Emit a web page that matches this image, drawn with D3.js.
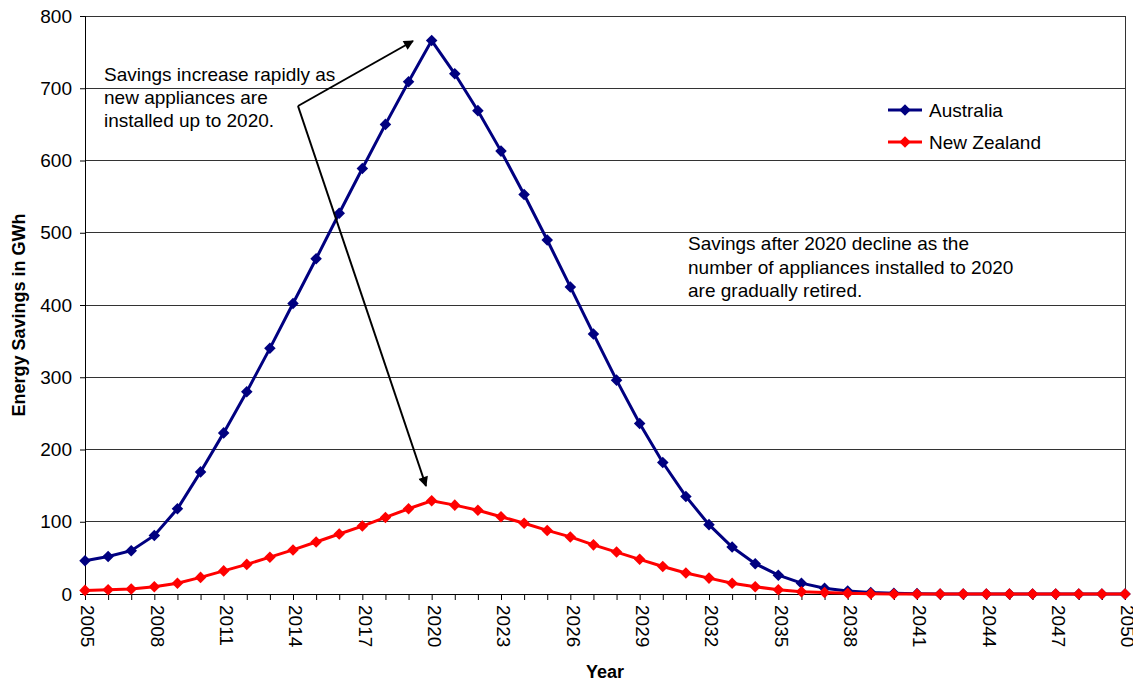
<!DOCTYPE html>
<html><head><meta charset="utf-8">
<script src="https://cdn.jsdelivr.net/npm/d3@7"></script>
<style>body{margin:0;background:#fff;} text{font-family:"Liberation Sans",Arial,sans-serif;}</style>
</head><body><svg id="c" width="1133" height="684"></svg>
<script>
const years = d3.range(2005, 2051);
const australia = [46,52,60,81,118,169,223,280,340,402,464,527,589,650,709,766,720,669,613,553,490,425,360,296,236,182,135,96,65,42,26,15,8,4,2,1,0.5,0,0,0,0,0,0,0,0,0];
const newZealand = [5,6,7,10,15,23,32,41,51,61,72,83,94,106,118,129,123,116,107,98,88,79,68,58,48,38,29,22,15,10,6,3,2,1,0.5,0,0,0,0,0,0,0,0,0,0,0];
const yTicks = [0,100,200,300,400,500,600,700,800];
const xLabelYears = d3.range(2005, 2051, 3);
const seriesNames = ["Australia","New Zealand"];
const seriesColors = ["#000080","#FF0000"];

const FS = 19;
const svg = d3.select("#c");
const L=85, R=1125, T=16, B=594;
const x = d3.scaleLinear().domain([2005,2050]).range([L,R]);
const y = d3.scaleLinear().domain([0,800]).range([B,T]);

// gridlines
svg.append("g").selectAll("line").data(yTicks).join("line")
  .attr("x1",L).attr("x2",R).attr("y1",d=>y(d)).attr("y2",d=>y(d))
  .attr("stroke","#333").attr("stroke-width",1).attr("shape-rendering","crispEdges");
// right border
svg.append("line").attr("x1",R).attr("x2",R).attr("y1",T).attr("y2",B).attr("stroke","#333").attr("shape-rendering","crispEdges");

// y axis
const ya = svg.append("g").attr("transform",`translate(${L},0)`)
  .call(d3.axisLeft(y).tickValues(yTicks).tickSize(5).tickPadding(8).tickFormat(d3.format("d")));
ya.select(".domain").attr("stroke","#000");
ya.selectAll("text").attr("font-size",FS).attr("fill","#000").style("font-family","Liberation Sans, Arial, sans-serif");

// x axis
const xa = svg.append("g").attr("transform",`translate(0,${B})`)
  .call(d3.axisBottom(x).tickValues(years).tickSize(6).tickFormat(d=> xLabelYears.includes(d)? String(d):""));
xa.select(".domain").attr("stroke","#000");
xa.selectAll("text").attr("font-size",FS).attr("fill","#000")
  .style("font-family","Liberation Sans, Arial, sans-serif")
  .attr("transform","rotate(90)").attr("text-anchor","start")
  .attr("x",11).attr("y",0).attr("dy","0.22em");

// series
const data = [australia,newZealand];
data.forEach((vals,i)=>{
  const pts = years.map((yr,j)=>[yr,vals[j]]);
  svg.append("path").datum(pts)
    .attr("d",d3.line().x(d=>x(d[0])).y(d=>y(d[1])))
    .attr("fill","none").attr("stroke",seriesColors[i]).attr("stroke-width",3);
  svg.append("g").selectAll("path").data(pts).join("path")
    .attr("d",d3.symbol(d3.symbolDiamond2,85))
    .attr("transform",d=>`translate(${x(d[0])},${y(d[1])})`)
    .attr("fill",seriesColors[i]);
});

// axis titles
svg.append("text").attr("transform",`translate(25,${(T+B)/2 + 10}) rotate(-90)`)
  .attr("text-anchor","middle").attr("font-size",FS-1).attr("font-weight","bold").text("Energy Savings in GWh");
svg.append("text").attr("x",605).attr("y",678).attr("text-anchor","middle")
  .attr("font-size",FS-1).attr("font-weight","bold").text("Year");

// legend
seriesNames.forEach((n,i)=>{
  const ly = 110 + i*32;
  svg.append("line").attr("x1",888).attr("x2",922).attr("y1",ly).attr("y2",ly)
    .attr("stroke",seriesColors[i]).attr("stroke-width",3);
  svg.append("path").attr("d",d3.symbol(d3.symbolDiamond2,85))
    .attr("transform",`translate(905,${ly})`).attr("fill",seriesColors[i]);
  svg.append("text").attr("x",929).attr("y",ly).attr("dy","0.35em").attr("font-size",FS).text(n);
});

// annotations
const ann1 = ["Savings increase rapidly as","new appliances are","installed up to 2020."];
svg.append("g").selectAll("text").data(ann1).join("text")
  .attr("x",104).attr("y",(d,i)=>81+i*23).attr("font-size",FS).text(d=>d);
const ann2 = ["Savings after 2020 decline as the","number of appliances installed to 2020","are gradually retired."];
svg.append("g").selectAll("text").data(ann2).join("text")
  .attr("x",688).attr("y",(d,i)=>250+i*23.5).attr("font-size",FS).text(d=>d);

// arrows
const defs = svg.append("defs");
defs.append("marker").attr("id","ah").attr("viewBox","0 0 10 10").attr("refX",9).attr("refY",5)
  .attr("markerWidth",6).attr("markerHeight",5).attr("orient","auto")
  .append("path").attr("d","M0,0 L10,5 L0,10 Z").attr("fill","#000");
svg.append("line").attr("x1",298).attr("y1",106).attr("x2",413).attr("y2",41)
  .attr("stroke","#000").attr("stroke-width",2).attr("marker-end","url(#ah)");
svg.append("line").attr("x1",298).attr("y1",106).attr("x2",426).attr("y2",486)
  .attr("stroke","#000").attr("stroke-width",2).attr("marker-end","url(#ah)");
</script></body></html>
